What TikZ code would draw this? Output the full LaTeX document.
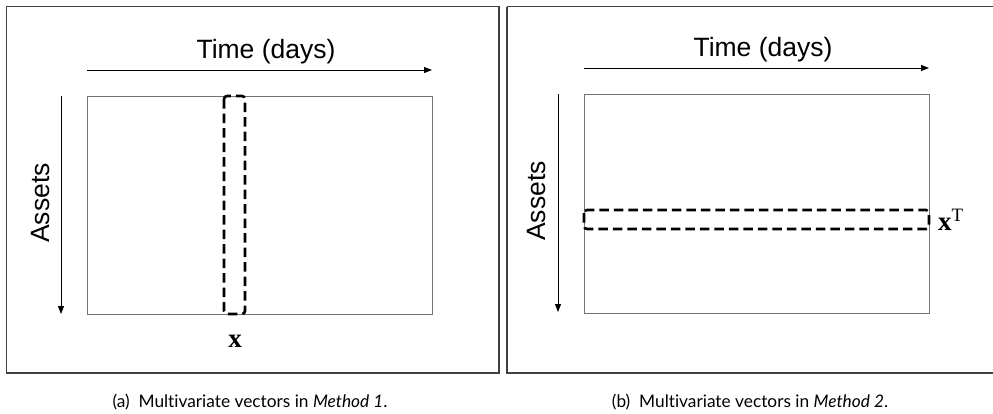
\documentclass[tikz,border=0pt]{standalone}
\usepackage{fontspec}
\setmainfont{Liberation Serif}
\newfontfamily\arialf{Liberation Sans}
\newfontfamily\capf[Ligatures=NoCommon]{Lato}
\usetikzlibrary{arrows.meta}
\begin{document}
\begin{tikzpicture}[x=1pt,y=-1pt,
  outerframe/.style={draw=black!75,line width=1.1pt},
  gridbox/.style={draw=black!55,line width=1pt},
  axisarrow/.style={line width=0.9pt,-{Triangle[length=8pt,width=6pt]}},
  selbox/.style={draw=black,line width=2.6pt,dash pattern=on 9.5pt off 5pt,rounded corners=3pt},
  axlabel/.style={font=\arialf\fontsize{26.5}{28}\selectfont,inner sep=0pt},
  veclabel/.style={font=\fontsize{27}{29}\selectfont,inner sep=0pt},
  captext/.style={font=\capf\fontsize{17.3}{20}\selectfont,inner sep=0pt}]
\useasboundingbox (0,0) rectangle (993,413);
% ---- panel (a)
\draw[outerframe] (6.5,6.5) rectangle (499,373);
\node[axlabel] (ta) at (266,52) {Time (days)};
\coordinate (ta1) at (87,70); \coordinate (ta2) at (432,70);
\draw[axisarrow] (ta1) -- (ta2);
\node[axlabel,rotate=90] (aa) at (41,203) {Assets};
\coordinate (aa1) at (61,96); \coordinate (aa2) at (61,314);
\draw[axisarrow] (aa1) -- (aa2);
\draw[gridbox] (87,96) rectangle (432,314);
\draw[selbox] (224,96) rectangle (245,314);
\node[veclabel] (xa) at (235,341) {$\mathbf{x}$};
\node[captext] (ca) at (250,402) {(a)\ \ Multivariate vectors in \textit{Method 1}.};
% ---- panel (b)
\draw[outerframe] (507,6.5) -- (993,6.5) (507,6.5) -- (507,373) -- (993,373);
\node[axlabel] (tb) at (763,50) {Time (days)};
\coordinate (tb1) at (584,68); \coordinate (tb2) at (929,68);
\draw[axisarrow] (tb1) -- (tb2);
\node[axlabel,rotate=90] (ab) at (537,201) {Assets};
\coordinate (ab1) at (558,94); \coordinate (ab2) at (558,312);
\draw[axisarrow] (ab1) -- (ab2);
\draw[gridbox] (584,94) rectangle (929,313);
\draw[selbox] (584,210) rectangle (929,229);
\node[veclabel,anchor=west] (xb) at (938,220) {$\mathbf{x}^{\mathrm{T}}$};
\node[captext] (cb) at (750,402) {(b)\ \ Multivariate vectors in \textit{Method 2}.};
\end{tikzpicture}
\end{document}
